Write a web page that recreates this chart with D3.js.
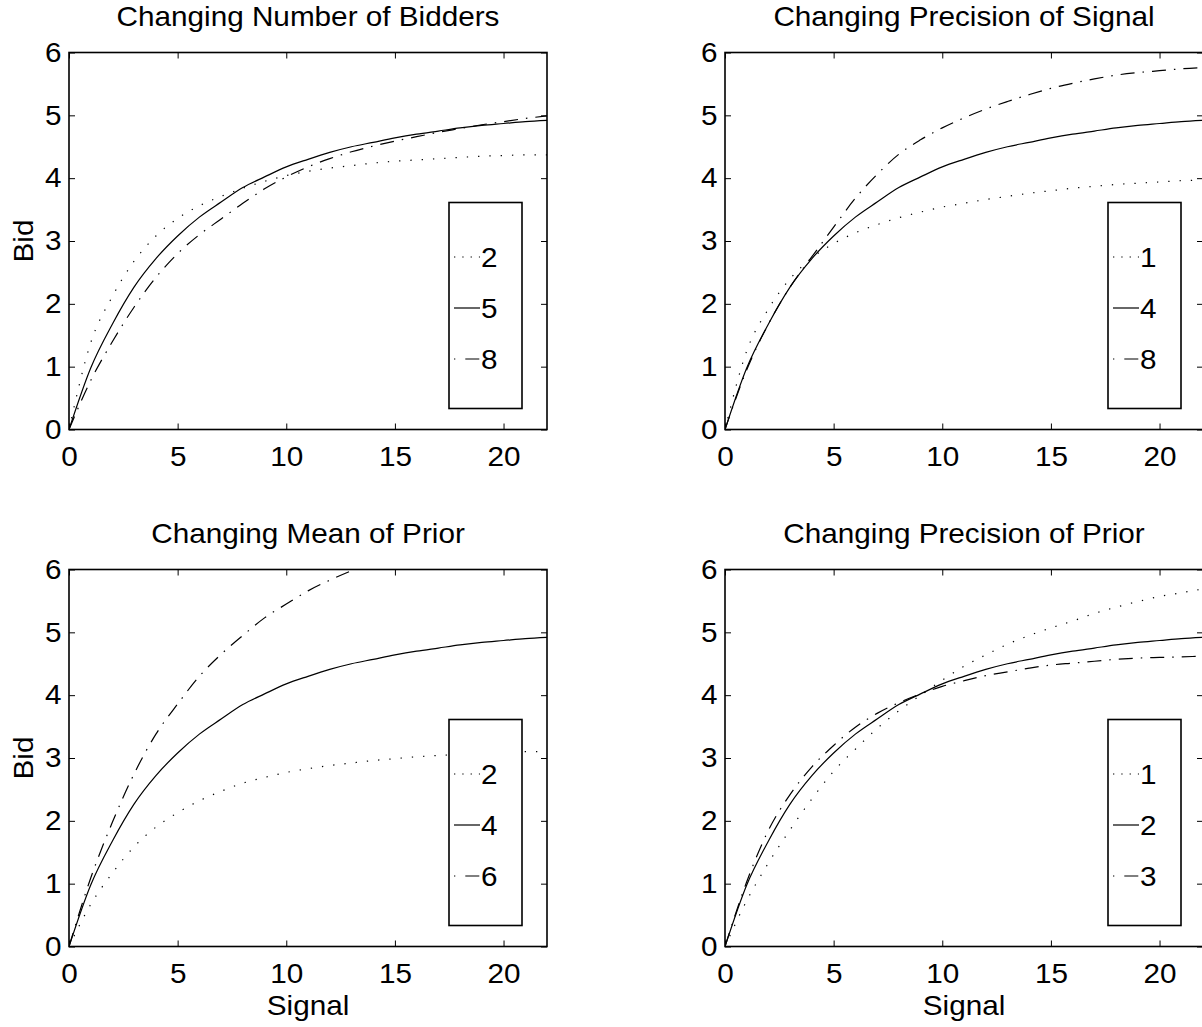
<!DOCTYPE html>
<html lang="en">
<head>
<meta charset="utf-8">
<title>Bid functions</title>
<script src="https://d3js.org/d3.v7.min.js"></script>
<style>
  body { margin: 0; background: #fff; }
  svg { display: block; }
  text { font-family: "Liberation Sans", Arial, sans-serif; fill: #000; }
</style>
</head>
<body>
<script>
  // signal values (x) shared by all the curves
  var signal = [0, 1, 2, 3, 4, 5, 6, 7, 8, 9, 10, 11, 12, 13, 14, 15, 16, 17, 18, 19, 20, 21, 22];

  // base case (solid line, same in every panel)
  var baseBid = [0, 0.98, 1.68, 2.27, 2.72, 3.08, 3.38, 3.62, 3.85, 4.02, 4.18, 4.3, 4.41, 4.5, 4.57, 4.64, 4.7, 4.75, 4.8, 4.84, 4.87, 4.9, 4.92];

  // changing number of bidders
  var bidders2 = [0, 1.38, 2.12, 2.68, 3.08, 3.36, 3.56, 3.71, 3.84, 3.95, 4.04, 4.11, 4.16, 4.2, 4.24, 4.27, 4.29, 4.31, 4.33, 4.35, 4.36, 4.37, 4.37];
  var bidders8 = [0, 0.78, 1.4, 1.95, 2.42, 2.8, 3.1, 3.35, 3.6, 3.83, 4.02, 4.18, 4.31, 4.42, 4.51, 4.59, 4.66, 4.73, 4.79, 4.85, 4.9, 4.95, 4.99];

  // changing precision of signal
  var signalPrec1 = [0, 1.25, 1.92, 2.4, 2.73, 2.96, 3.13, 3.26, 3.37, 3.46, 3.54, 3.6, 3.66, 3.71, 3.76, 3.8, 3.84, 3.87, 3.9, 3.92, 3.94, 3.96, 3.97];
  var signalPrec8 = [0, 0.95, 1.68, 2.27, 2.75, 3.22, 3.68, 4.06, 4.38, 4.61, 4.8, 4.96, 5.1, 5.22, 5.33, 5.43, 5.51, 5.58, 5.64, 5.68, 5.71, 5.74, 5.76];

  // changing mean of prior (mean 6 leaves the axes near signal 13)
  var mean2 = [0, 0.67, 1.17, 1.59, 1.9, 2.13, 2.32, 2.47, 2.6, 2.69, 2.77, 2.83, 2.88, 2.92, 2.96, 2.99, 3.02, 3.04, 3.06, 3.08, 3.09, 3.1, 3.1];
  var mean6 = [0, 1.09, 1.98, 2.75, 3.38, 3.86, 4.3, 4.65, 4.95, 5.23, 5.45, 5.66, 5.83, 5.98, 6.12];

  // changing precision of prior
  var priorPrec1 = [0, 0.73, 1.33, 1.86, 2.35, 2.79, 3.14, 3.47, 3.75, 4.0, 4.24, 4.46, 4.64, 4.81, 4.95, 5.07, 5.18, 5.3, 5.4, 5.49, 5.57, 5.63, 5.69];
  var priorPrec3 = [0, 1.03, 1.85, 2.42, 2.86, 3.2, 3.49, 3.71, 3.88, 4.02, 4.14, 4.23, 4.31, 4.37, 4.43, 4.48, 4.51, 4.54, 4.57, 4.59, 4.6, 4.61, 4.62];

  var titles = ["Changing Number of Bidders", "Changing Precision of Signal", "Changing Mean of Prior", "Changing Precision of Prior"];
  var legendLabels = [["2", "5", "8"], ["1", "4", "8"], ["2", "4", "6"], ["1", "2", "3"]];
  var seriesSets = [
    [bidders2, baseBid, bidders8],
    [signalPrec1, baseBid, signalPrec8],
    [mean2, baseBid, mean6],
    [priorPrec1, baseBid, priorPrec3]
  ];
  var xTicks = [0, 5, 10, 15, 20];
  var yTicks = [0, 1, 2, 3, 4, 5, 6];

  var width = 1202, height = 1027;
  var pw = 478, ph = 377;
  var lefts = [69, 725], tops = [52.5, 569.5];
  var legendX = [380, 383];
  var fs = 27.5;
  var stretch = "scale(1.08,1)";

  // line styles: dotted, solid, dash-dot
  var dashes = ["1.3,10", null, "14,8,1.5,8"];
  var legendDashes = ["1.3,7", null, "1.3,10,14,30"];

  var svg = d3.select("body").append("svg")
    .attr("width", width)
    .attr("height", height);

  var x = d3.scaleLinear().domain([0, 22]).range([0, pw]);
  var y = d3.scaleLinear().domain([0, 6]).range([ph, 0]);

  var line = d3.line()
    .x(function(d) { return x(d[0]); })
    .y(function(d) { return y(d[1]); })
    .curve(d3.curveMonotoneX);

  svg.append("defs").append("clipPath")
    .attr("id", "plotclip")
    .append("rect")
    .attr("width", pw)
    .attr("height", ph);

  // text with the slightly wide look of the original
  function label(parent, tx, ty, str, rot) {
    return parent.append("text")
      .attr("transform", "translate(" + tx + "," + ty + ")" + (rot ? " rotate(-90)" : "") + " " + stretch)
      .attr("text-anchor", "middle")
      .attr("font-size", fs)
      .text(str);
  }

  titles.forEach(function(title, k) {
    var col = k % 2, row = Math.floor(k / 2);
    var g = svg.append("g")
      .attr("transform", "translate(" + lefts[col] + "," + tops[row] + ")");

    // curves
    var plot = g.append("g").attr("clip-path", "url(#plotclip)");
    seriesSets[k].forEach(function(vals, i) {
      var pts = vals.map(function(v, j) { return [signal[j], v]; });
      plot.append("path")
        .datum(pts)
        .attr("d", line)
        .attr("fill", "none")
        .attr("stroke", "#000")
        .attr("stroke-width", 1.2)
        .attr("stroke-dasharray", dashes[i]);
    });

    // axes with inward ticks on all four sides
    g.append("g")
      .attr("transform", "translate(0," + ph + ")")
      .call(d3.axisBottom(x).tickValues(xTicks).tickFormat(d3.format("d"))
        .tickSizeInner(-6).tickSizeOuter(0).tickPadding(17));
    g.append("g")
      .call(d3.axisLeft(y).tickValues(yTicks).tickFormat(d3.format("d"))
        .tickSizeInner(-6).tickSizeOuter(0).tickPadding(7));
    g.append("g")
      .call(d3.axisTop(x).tickValues(xTicks).tickSizeInner(-6).tickSizeOuter(0).tickFormat(""));
    g.append("g")
      .attr("transform", "translate(" + pw + ",0)")
      .call(d3.axisRight(y).tickValues(yTicks).tickSizeInner(-6).tickSizeOuter(0).tickFormat(""));

    g.selectAll(".domain").remove();
    g.selectAll(".tick line").attr("stroke", "#000").attr("stroke-width", 1);
    g.selectAll(".tick text")
      .attr("font-size", fs)
      .attr("font-family", "Liberation Sans, Arial, sans-serif")
      .attr("fill", "#000")
      .attr("transform", stretch);

    g.append("rect")
      .attr("width", pw)
      .attr("height", ph)
      .attr("fill", "none")
      .attr("stroke", "#000")
      .attr("stroke-width", 1.6);

    label(g, pw / 2, -26.5, title, false);
    if (col === 0) label(g, -36, ph / 2, "Bid", true);
    if (row === 1) label(g, pw / 2, ph + 68, "Signal", false);

    // legend
    var lg = g.append("g")
      .attr("transform", "translate(" + legendX[col] + ",150)");
    lg.append("rect")
      .attr("width", 73)
      .attr("height", 206)
      .attr("fill", "#fff")
      .attr("stroke", "#000")
      .attr("stroke-width", 1.6);
    legendLabels[k].forEach(function(lab, i) {
      var yy = 54.5 + i * 51;
      lg.append("line")
        .attr("x1", 5).attr("x2", 31)
        .attr("y1", yy).attr("y2", yy)
        .attr("stroke", "#000")
        .attr("stroke-width", 1.2)
        .attr("stroke-dasharray", legendDashes[i]);
      lg.append("text")
        .attr("transform", "translate(32," + (yy + 9.5) + ") " + stretch)
        .attr("font-size", fs)
        .text(lab);
    });
  });
</script>
</body>
</html>
